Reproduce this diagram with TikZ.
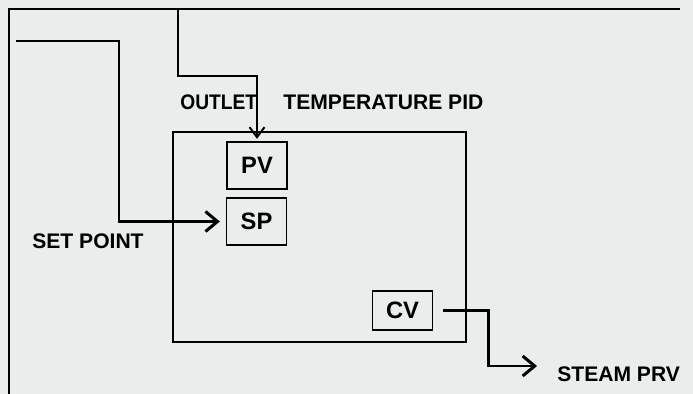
\documentclass[tikz,border=0pt]{standalone}
\usepackage{graphicx}
\usepackage{fontspec}
\setmainfont{Liberation Sans}
\usetikzlibrary{arrows.meta,positioning}
\definecolor{paper}{HTML}{E9EDEC}

\begin{document}
\begin{tikzpicture}[x=0.02cm, y=-0.02cm,
      box/.style={draw=black, line width=.8pt, inner sep=0pt,
        minimum width=1.2cm, minimum height=.94cm,
        font=\fontsize{13.5}{15}\selectfont\bfseries},
      tag/.style={inner sep=0pt, anchor=west,
        font=\fontsize{12}{14}\selectfont\bfseries},
      feed/.style={line width=1.7pt, line join=miter,
        -{Straight Barb[length=2.4mm,width=4mm]}}
    ]
      \fill[paper] (0,0) rectangle (693,394);
      \useasboundingbox (0,0) rectangle (693,394);
      \draw[line width=.7pt] (9,394) -- (9,9) -- (680,9);

      \node[draw=black, line width=.7pt, minimum width=5.86cm, minimum height=4.2cm]
        (pid) at (319.5,237) {};
      \node[box] (pv) at (257,165.5) {PV};
      \node[box] (sp) at (256.5,221.5) {SP};
      \node[box, minimum height=.78cm] (cv) at (402.5,310.5) {CV};

      \node[tag] (title) at (180,102.5)
        {\scalebox{.91}[1]{OUTLET}\hspace{15pt}TEMPERATURE PID};
      \node[tag] (setpt) at (32,241.5) {SET POINT};
      \node[tag] (steam) at (557,374.5) {STEAM PRV};

      \coordinate (pvin) at (178,9);
      \coordinate (spin) at (16,41);
      \coordinate (prvin) at (537,366);

      \draw[feed, line width=1.1pt, shorten >=.5mm,
        -{Straight Barb[length=2mm,width=3mm]}] (pvin) -- ++(0,67) -| (pv.north);
      \draw[feed, shorten >=1.2mm] (spin) -- ++(103,0) |- (sp.west);
      \draw[feed, shorten <=2mm] (cv.east) -- ++(55,0) |- (prvin);
    \end{tikzpicture}
\end{document}
